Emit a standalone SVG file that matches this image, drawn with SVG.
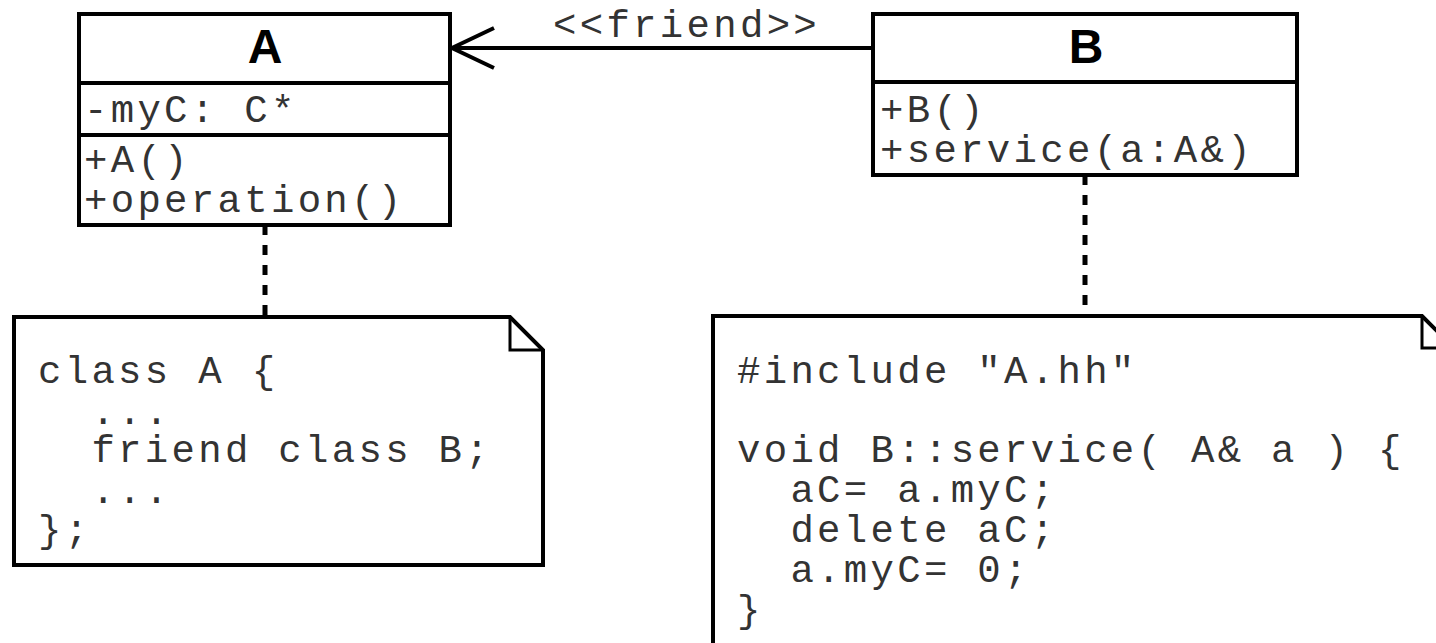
<svg xmlns="http://www.w3.org/2000/svg" width="1436" height="643" viewBox="0 0 1436 643">
<style>
.box{fill:#fff;stroke:#000;stroke-width:4}
.sep{stroke:#000;stroke-width:4}
.title{font-family:"Liberation Sans",Arial,sans-serif;font-weight:bold;font-size:48px;fill:#000;text-anchor:middle}
.mono{font-family:"Liberation Mono","Courier New",monospace;font-size:39px;letter-spacing:3.3px;fill:#333}
.dot{stroke:#000;stroke-width:5;stroke-dasharray:10 10;fill:none}
.edge{stroke:#000;stroke-width:4;fill:none}
</style>
<rect width="1436" height="643" fill="#fff"/>
<g id="connectors">
  <line class="dot" x1="265" y1="225" x2="265" y2="317"/>
  <line class="dot" x1="1085" y1="175" x2="1085" y2="316"/>
  <line class="edge" x1="452" y1="48" x2="873" y2="48"/>
  <polyline class="edge" points="494,28 452,48 494,68"/>
  <text class="mono" x="553" y="37">&lt;&lt;friend&gt;&gt;</text>
</g>
<g id="classA">
  <rect class="box" x="79" y="14" width="371" height="211"/>
  <line class="sep" x1="79" y1="83" x2="450" y2="83"/>
  <line class="sep" x1="79" y1="135" x2="450" y2="135"/>
  <text class="title" x="265" y="63">A</text>
  <text class="mono" x="84" y="122">-myC: C*</text>
  <text class="mono" x="84" y="172">+A()</text>
  <text class="mono" x="84" y="212">+operation()</text>
</g>
<g id="classB">
  <rect class="box" x="873" y="14" width="424" height="161"/>
  <line class="sep" x1="873" y1="82" x2="1297" y2="82"/>
  <text class="title" x="1086" y="63">B</text>
  <text class="mono" x="880" y="122">+B()</text>
  <text class="mono" x="880" y="162">+service(a:A&amp;)</text>
</g>
<g id="noteA">
  <path class="box" d="M14,317 L510,317 L543,350 L543,565 L14,565 Z"/>
  <path d="M510,317 L510,350 L543,350" fill="none" stroke="#000" stroke-width="3"/>
  <text class="mono" x="38" y="383">class A {</text>
  <text class="mono" x="38" y="424" xml:space="preserve">  ...</text>
  <text class="mono" x="38" y="462" xml:space="preserve">  friend class B;</text>
  <text class="mono" x="38" y="503" xml:space="preserve">  ...</text>
  <text class="mono" x="38" y="542">};</text>
</g>
<g id="noteB">
  <path class="box" d="M713,660 L713,316 L1422,316 L1455,349 L1455,660"/>
  <path d="M1422,316 L1422,348 L1455,348" fill="none" stroke="#000" stroke-width="3"/>
  <text class="mono" x="737" y="383">#include "A.hh"</text>
  <text class="mono" x="737" y="462">void B::service( A&amp; a ) {</text>
  <text class="mono" x="737" y="502" xml:space="preserve">  aC= a.myC;</text>
  <text class="mono" x="737" y="542" xml:space="preserve">  delete aC;</text>
  <text class="mono" x="737" y="582" xml:space="preserve">  a.myC= 0;</text>
  <text class="mono" x="737" y="622">}</text>
</g>
<text x="0" y="661" font-family="Liberation Sans,Arial,sans-serif" font-weight="bold" font-size="34" fill="#000">c:</text>
</svg>
